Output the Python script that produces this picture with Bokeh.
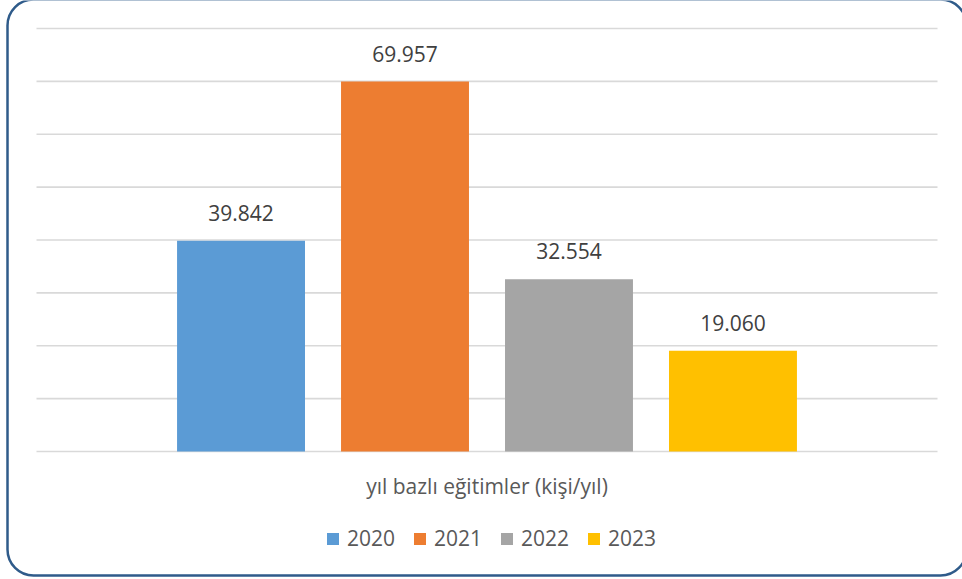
from bokeh.plotting import figure
from bokeh.models import (ColumnDataSource, Range1d, Legend, LegendItem, BoxAnnotation)
from bokeh.core.properties import value
from bokeh.embed import file_html
from bokeh.resources import INLINE

category = ["yıl bazlı eğitimler (kişi/yıl)"]
years = ["2020", "2021", "2022", "2023"]
values = [39842, 69957, 32554, 19060]
colors = ["#5B9BD5", "#ED7D31", "#A5A5A5", "#FFC000"]
y_ticks = [0, 10000, 20000, 30000, 40000, 50000, 60000, 70000, 80000]


def fmt(v):
    return f"{v:,}".replace(",", ".")


W, H = 962, 579
# plot-area geometry (pixels)
LEFT, RIGHT = 36, 937      # category extent
TOP, BASE = 28, 451        # 80000 gridline, 0 baseline
Y_MAX = y_ticks[-1]
px_y = Y_MAX / (BASE - TOP)            # data units per pixel (y)
px_x = 1.0 / (RIGHT - LEFT)            # category units per pixel (x)

p = figure(width=W, height=H,
           x_range=Range1d(-LEFT * px_x, (W - LEFT) * px_x),
           y_range=Range1d(-(H - BASE) * px_y, Y_MAX + TOP * px_y),
           output_backend="svg", toolbar_location=None,
           min_border=0)
p.outline_line_color = None
p.background_fill_color = "white"
p.border_fill_color = "white"
p.xaxis.visible = False
p.yaxis.visible = False
p.xgrid.visible = False
p.ygrid.visible = False

# horizontal gridlines across the category extent
p.segment(x0=[0.0] * len(y_ticks), x1=[1.0] * len(y_ticks), y0=y_ticks, y1=y_ticks,
          line_color="#D9D9D9", line_width=1.6)

items = []
step = 0.182
bar_w = 0.142
n = len(years)
for i, (yr, v, c) in enumerate(zip(years, values, colors)):
    xc = 0.5 + (i - (n - 1) / 2) * step
    src = ColumnDataSource(dict(x=[xc], y=[v], label=[fmt(v)]))
    r = p.vbar(x="x", top="y", bottom=0, width=bar_w,
               source=src, fill_color=c, line_color=None)
    p.text(x="x", y="y", text="label", source=src,
           text_align="center", text_baseline="alphabetic", y_offset=-28,
           text_font=value("Open Sans"), text_font_size=value("21px"),
           text_color="#404040")
    items.append(LegendItem(label=yr, renderers=[r]))

# category (axis) label
cat_src = ColumnDataSource(dict(x=[0.5], y=[-34 * px_y], t=category))
p.text(x="x", y="y", text="t", source=cat_src, text_align="center",
       text_baseline="middle", text_font=value("Open Sans"),
       text_font_size=value("21px"), text_color="#595959")

legend = Legend(items=items, orientation="horizontal", location=(325, 27),
                glyph_width=15, glyph_height=15, label_standoff=7, spacing=17,
                padding=0, margin=0, border_line_color=None,
                background_fill_alpha=0,
                label_text_font="Open Sans", label_text_font_size="21px",
                label_text_color="#595959")
p.add_layout(legend, "center")

border = BoxAnnotation(left=7, right=966, top=-1, bottom=575,
                       left_units="canvas", right_units="canvas",
                       top_units="canvas", bottom_units="canvas",
                       fill_alpha=0, line_color="#2F5B8A", line_alpha=1,
                       line_width=2.5, border_radius=26, level="overlay")
p.add_layout(border)

open("out.html", "w").write(file_html(p, INLINE))
